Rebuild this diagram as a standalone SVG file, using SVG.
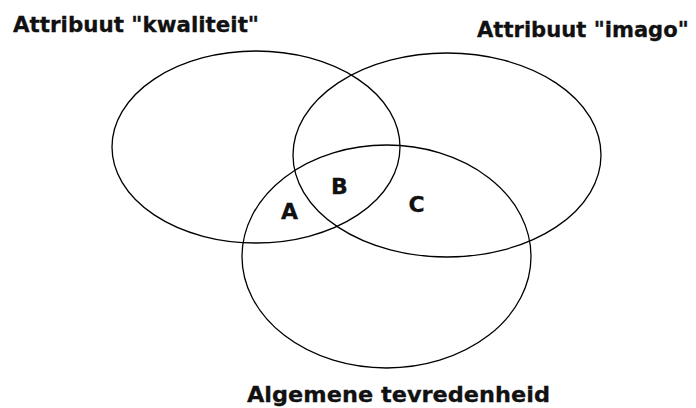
<svg xmlns="http://www.w3.org/2000/svg" width="696" height="408" viewBox="0 0 696 408">
<style>
.e{fill:none;stroke:#000;stroke-width:1.3}
.t{font-family:"DejaVu Sans",Verdana,sans-serif;font-weight:bold;font-size:22px;fill:#111;stroke:#111;stroke-width:0.3}
.m{text-anchor:middle}
</style>
<rect width="696" height="408" fill="#fff"/>
<g id="kwaliteit">
<ellipse class="e" cx="256" cy="147" rx="144" ry="96"/>
<text class="t" x="13" y="32" textLength="246" lengthAdjust="spacingAndGlyphs">Attribuut "kwaliteit"</text>
</g>
<g id="imago">
<ellipse class="e" cx="447" cy="155" rx="154" ry="102"/>
<text class="t" x="477" y="37" style="font-size:21.1px">Attribuut "imago"</text>
</g>
<g id="tevredenheid">
<ellipse class="e" cx="386.5" cy="256.5" rx="144.5" ry="111.5"/>
<text class="t" x="247" y="402" textLength="303" lengthAdjust="spacingAndGlyphs">Algemene tevredenheid</text>
</g>
<g id="regions">
<text class="t m" x="289.5" y="219">A</text>
<text class="t m" x="339.5" y="194">B</text>
<text class="t m" x="416.5" y="212">C</text>
</g>
</svg>
